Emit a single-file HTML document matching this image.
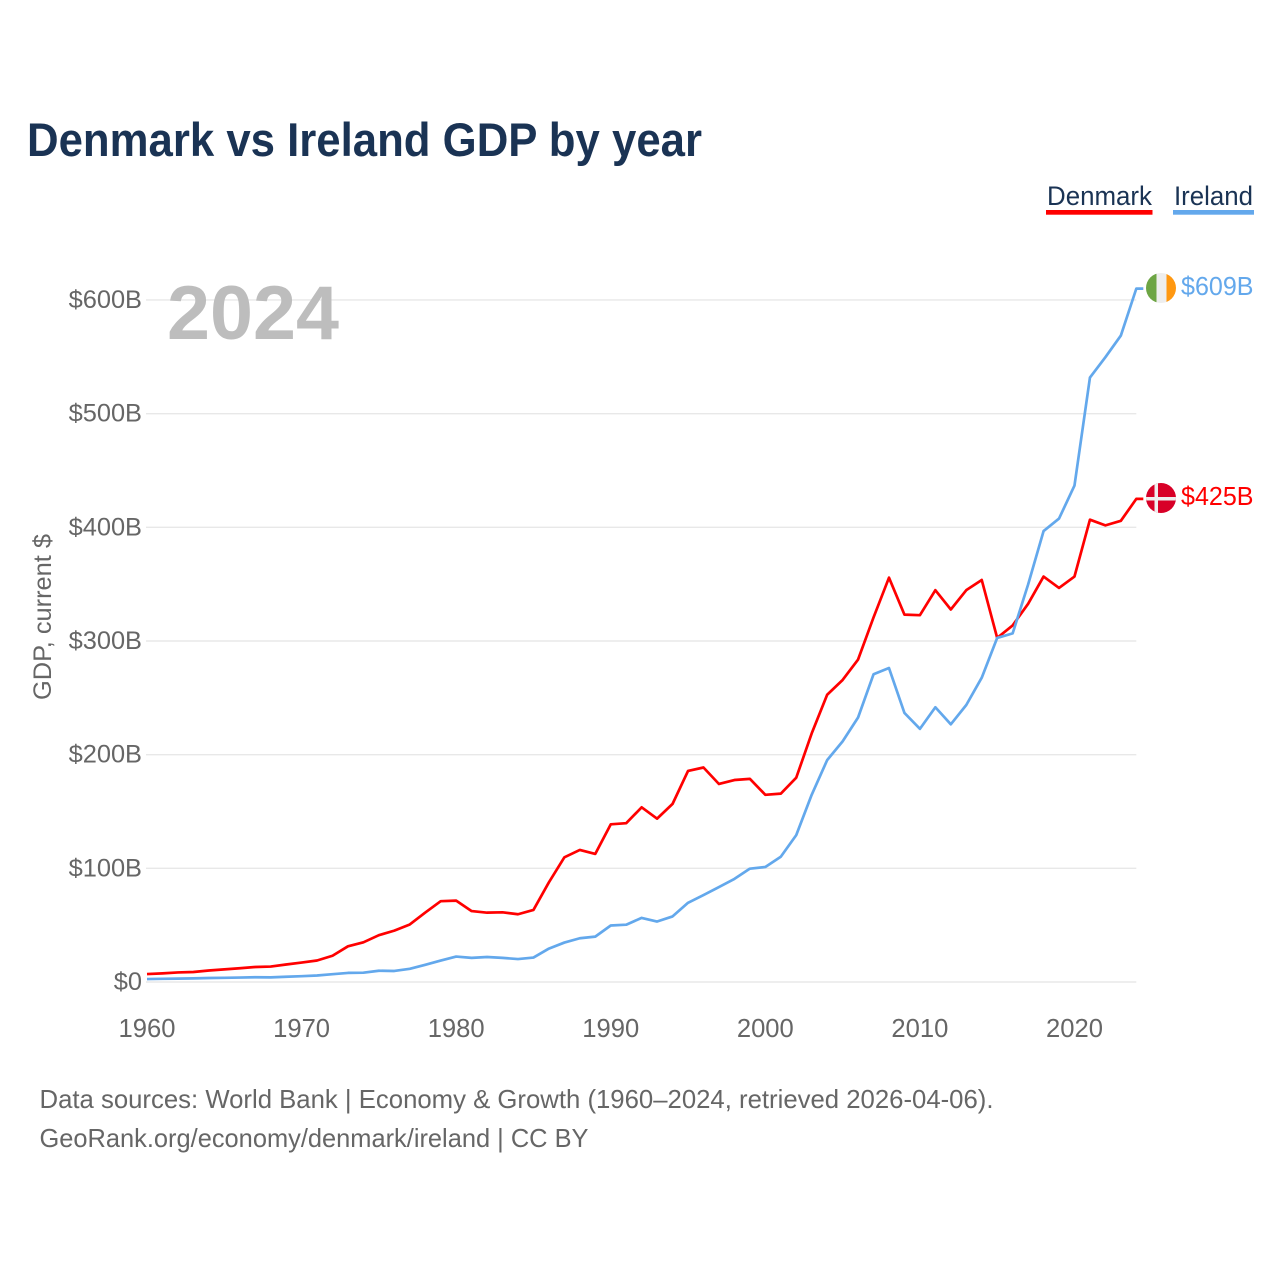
<!DOCTYPE html>
<html lang="en">
<head>
<meta charset="utf-8">
<title>Denmark vs Ireland GDP by year</title>
<style>
html,body{margin:0;padding:0;background:#fff;width:1280px;height:1280px;overflow:hidden}
svg{display:block;font-family:"Liberation Sans",Arial,sans-serif}
</style>
</head>
<body>
<svg id="chart" width="1280" height="1280" viewBox="0 0 1280 1280" xmlns="http://www.w3.org/2000/svg">
  <defs>
    <clipPath id="flag-clip-ie"><circle cx="1161" cy="288" r="15"/></clipPath>
    <clipPath id="flag-clip-dk"><circle cx="1161" cy="498" r="15"/></clipPath>
  </defs>
  <rect width="1280" height="1280" fill="#fff"/>
  <text x="27" y="156" font-size="47" font-weight="700" fill="#1a3354" textLength="675" lengthAdjust="spacingAndGlyphs">Denmark vs Ireland GDP by year</text>

  <g id="grid"></g>
  <g id="yticks"></g>
  <g id="xticks"></g>

  <text x="167" y="339" font-size="76" font-weight="700" fill="#bdbdbd" textLength="172" lengthAdjust="spacingAndGlyphs">2024</text>
  <text transform="translate(51,700) rotate(-90)" font-size="25" fill="#666" textLength="166" lengthAdjust="spacingAndGlyphs">GDP, current $</text>

  <g id="series"></g>

  <g>
    <g>
      <text x="1047" y="205" font-size="27" fill="#1a3354" textLength="105" lengthAdjust="spacingAndGlyphs">Denmark</text>
      <rect x="1046" y="210" width="106.500" height="4.700" fill="#ff0000"/>
    </g>
    <g>
      <text x="1174" y="205" font-size="27" fill="#1a3354" textLength="79" lengthAdjust="spacingAndGlyphs">Ireland</text>
      <rect x="1173" y="210" width="81" height="4.700" fill="#63a8ec"/>
    </g>
  </g>

  <g clip-path="url(#flag-clip-ie)">
    <rect x="1146" y="273" width="10.500" height="30" fill="#6da544"/>
    <rect x="1156.500" y="273" width="10" height="30" fill="#eeeeee"/>
    <rect x="1166.500" y="273" width="10" height="30" fill="#ff9811"/>
  </g>
  <text x="1181" y="295" font-size="25.600" fill="#63a8ec" textLength="72.500" lengthAdjust="spacingAndGlyphs">$609B</text>

  <g clip-path="url(#flag-clip-dk)">
    <rect x="1146" y="483" width="30" height="30" fill="#d80027"/>
    <rect x="1154.500" y="483" width="3.500" height="30" fill="#eeeeee"/>
    <rect x="1146" y="497" width="30" height="3.500" fill="#eeeeee"/>
  </g>
  <text x="1181" y="505" font-size="25.600" fill="#ff0000" textLength="72.500" lengthAdjust="spacingAndGlyphs">$425B</text>

  <g>
    <text x="39.500" y="1108" font-size="26" fill="#666" textLength="954" lengthAdjust="spacingAndGlyphs">Data sources: World Bank | Economy &amp; Growth (1960–2024, retrieved 2026-04-06).</text>
    <text x="39.500" y="1147" font-size="26" fill="#666" textLength="549" lengthAdjust="spacingAndGlyphs">GeoRank.org/economy/denmark/ireland | CC BY</text>
  </g>
</svg>
<script>
const startYear = 1960;
const xTickYears = [1960, 1970, 1980, 1990, 2000, 2010, 2020];
const yTickValues = [0, 100, 200, 300, 400, 500, 600];
const yTickLabels = ["$0", "$100B", "$200B", "$300B", "$400B", "$500B", "$600B"];
const denmarkGdp = [7, 7.6, 8.4, 8.8, 10.1, 11.1, 12.1, 13.2, 13.6, 15.4, 17.1, 18.9, 23.1, 31.4, 34.9, 41.2, 45.2, 50.6, 61.1, 71.1, 71.6, 62.4, 61, 61.3, 59.6, 63.4, 87.7, 109.7, 116.2, 112.7, 138.7, 139.7, 153.7, 143.7, 156.7, 185.7, 188.7, 174.2, 177.7, 178.7, 164.7, 165.7, 179.7, 218.7, 252.7, 265.7, 283.7, 320.7, 355.7, 323.2, 322.7, 344.7, 327.7, 344.7, 353.7, 302.7, 313.7, 332.7, 356.7, 346.7, 356.7, 406.7, 401.7, 405.7, 425];
const irelandGdp = [2.6, 2.8, 3, 3.2, 3.5, 3.7, 3.9, 4.2, 4.1, 4.6, 5.1, 5.7, 6.9, 8, 8.2, 9.9, 9.7, 11.6, 15.1, 18.9, 22.4, 21.2, 22, 21.2, 20.2, 21.5, 29.4, 34.7, 38.5, 39.9, 49.7, 50.4, 56.4, 53.2, 57.7, 69.7, 76.5, 83.5, 90.7, 99.7, 101.2, 110.2, 129.2, 164.7, 195.2, 211.7, 232.7, 270.7, 276.2, 236.7, 222.7, 241.7, 226.7, 243.7, 267.7, 302.7, 306.7, 349.7, 396.7, 407.7, 436.7, 531.7, 549.7, 568.7, 610];

const SVGNS = "http://www.w3.org/2000/svg";
function xScale(year) { return 147 + (year - 1960) * 15.458; }
function yScale(value) { return 982 - value * 1.1367; }

const gridGroup = document.getElementById("grid");
const yGroup = document.getElementById("yticks");
const xGroup = document.getElementById("xticks");
const seriesGroup = document.getElementById("series");
const lastYear = startYear + denmarkGdp.length - 1;

yTickValues.forEach(function (v, i) {
  const line = document.createElementNS(SVGNS, "line");
  
  
  line.setAttribute("x1", xScale(startYear) - 1);
  line.setAttribute("x2", xScale(lastYear));
  line.setAttribute("y1", yScale(v));
  line.setAttribute("y2", yScale(v));
  line.setAttribute("stroke", "#e8e8e8");
  line.setAttribute("stroke-width", "1.4");
  gridGroup.appendChild(line);

  const label = document.createElementNS(SVGNS, "text");
  
  
  label.setAttribute("x", 142);
  label.setAttribute("y", yScale(v) + 8);
  label.setAttribute("text-anchor", "end");
  label.setAttribute("font-size", "25.4");
  label.setAttribute("fill", "#666");
  label.textContent = yTickLabels[i];
  yGroup.appendChild(label);
});

xTickYears.forEach(function (year) {
  const label = document.createElementNS(SVGNS, "text");
  
  
  label.setAttribute("x", xScale(year));
  label.setAttribute("y", 1037);
  label.setAttribute("text-anchor", "middle");
  label.setAttribute("font-size", "25.6");
  label.setAttribute("fill", "#666");
  label.textContent = String(year);
  xGroup.appendChild(label);
});

function linePoints(values) {
  return values.map(function (v, i) {
    return xScale(startYear + i).toFixed(2) + "," + yScale(v).toFixed(2);
  });
}

function drawSeries(values, color) {
  const pts = linePoints(values);
  const endY = yScale(values[values.length - 1]);
  const endX = xScale(lastYear);
  pts.push((endX + 7).toFixed(2) + "," + endY.toFixed(2));
  const path = document.createElementNS(SVGNS, "polyline");
  path.setAttribute("points", pts.join(" "));
  path.setAttribute("fill", "none");
  path.setAttribute("stroke", color);
  path.setAttribute("stroke-width", "2.7");
  path.setAttribute("stroke-linejoin", "round");
  return path;
}

const denmarkLine = drawSeries(denmarkGdp, "#ff0000");


seriesGroup.appendChild(denmarkLine);

const irelandLine = drawSeries(irelandGdp, "#63a8ec");


seriesGroup.appendChild(irelandLine);
</script>
</body>
</html>
